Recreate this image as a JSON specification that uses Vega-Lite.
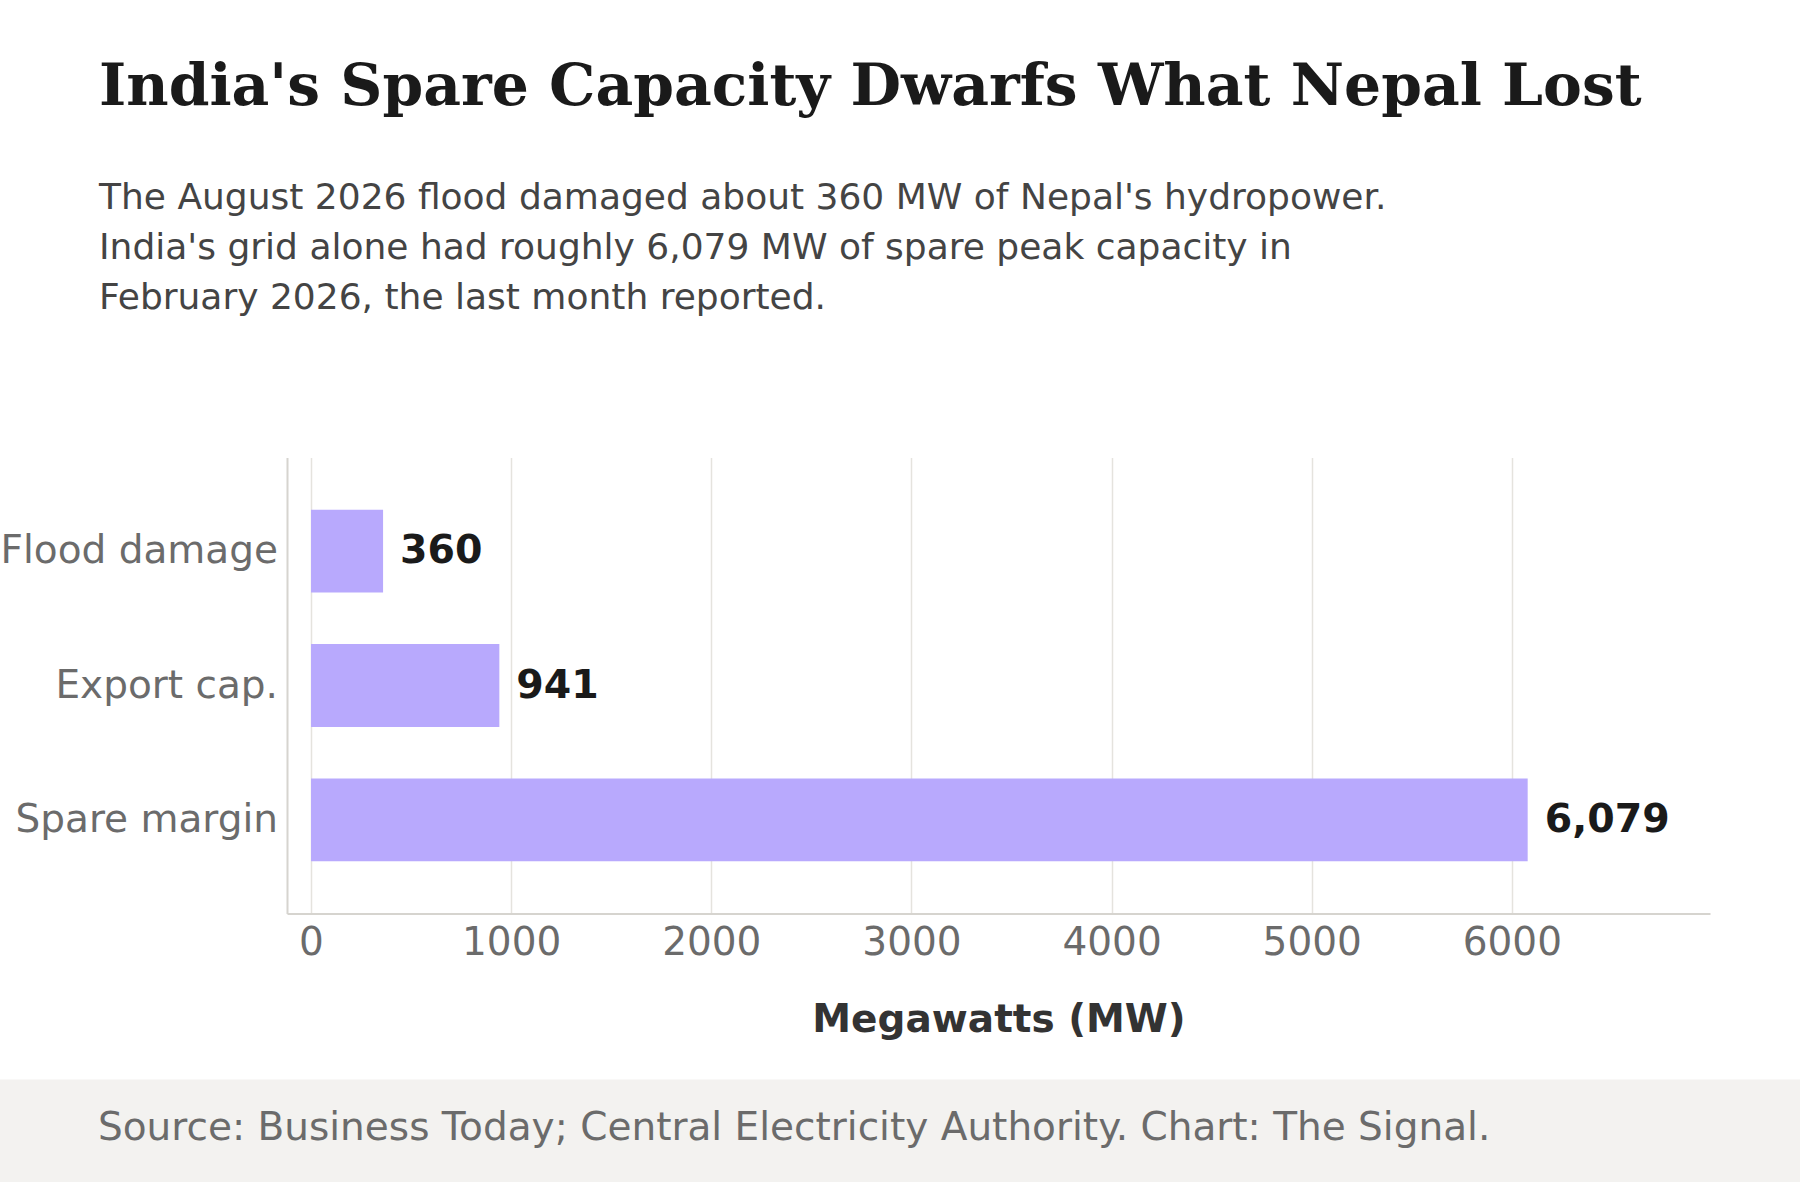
{
  "$schema": "https://vega.github.io/schema/vega-lite/v6.json",
  "padding": {"left": 0, "right": 0, "top": 57.5, "bottom": 0},
  "background": "white",
  "config": {"view": {"stroke": null}, "font": "DejaVu Sans"},
  "title": {
    "text": "India's Spare Capacity Dwarfs What Nepal Lost",
    "subtitle": [
      "The August 2026 flood damaged about 360 MW of Nepal's hydropower.",
      "India's grid alone had roughly 6,079 MW of spare peak capacity in",
      "February 2026, the last month reported."
    ],
    "anchor": "start",
    "frame": "group",
    "dx": 99,
    "font": "DejaVu Serif",
    "fontSize": 58.3,
    "fontWeight": "bold",
    "color": "#1a1a1a",
    "subtitleFont": "DejaVu Sans",
    "subtitleFontSize": 36,
    "subtitleColor": "#444444",
    "subtitleLineHeight": 50.4,
    "subtitlePadding": 63.7,
    "offset": 140.2
  },
  "spacing": 40,
  "vconcat": [
    {
      "width": 1710,
      "height": 456,
      "data": {
        "values": [
          {"category": "Flood damage", "mw": 360},
          {"category": "Export cap.", "mw": 941},
          {"category": "Spare margin", "mw": 6079}
        ]
      },
      "encoding": {
        "y": {
          "field": "category",
          "type": "nominal",
          "sort": null,
          "scale": {"paddingInner": 0.383, "paddingOuter": 0.388},
          "axis": {
            "title": null,
            "offset": -287,
            "ticks": false,
            "grid": false,
            "domainColor": "#d6d4cf",
            "domainWidth": 2,
            "labelFontSize": 39,
            "labelColor": "#6b6b6b",
            "labelPadding": 9.5,
            "labelLimit": 0
          }
        },
        "x": {
          "field": "mw",
          "type": "quantitative",
          "scale": {"domain": [-120, 6990], "range": [287, 1710], "nice": false, "zero": false},
          "axis": {
            "values": [0, 1000, 2000, 3000, 4000, 5000, 6000],
            "format": "d",
            "title": "Megawatts (MW)",
            "titleFontSize": 39,
            "titleFontWeight": "bold",
            "titleColor": "#333333",
            "titlePadding": 38,
            "labelFontSize": 39,
            "labelColor": "#6b6b6b",
            "labelPadding": 10,
            "ticks": false,
            "grid": true,
            "gridColor": "#e5e3de",
            "gridWidth": 1.5,
            "domainColor": "#d6d4cf",
            "domainWidth": 2
          }
        }
      },
      "layer": [
        {"mark": {"type": "bar", "color": "#b8a9fd"}},
        {
          "mark": {
            "type": "text",
            "align": "left",
            "baseline": "middle",
            "dx": 17,
            "fontSize": 39.5,
            "fontWeight": "bold",
            "color": "#1a1a1a"
          },
          "encoding": {"text": {"field": "mw", "type": "quantitative", "format": ","}}
        }
      ]
    },
    {
      "width": 1800,
      "height": 104,
      "data": {"values": [{"band": "footer"}]},
      "mark": {"type": "rect", "color": "#f3f2f0"},
      "title": {
        "text": "Source: Business Today; Central Electricity Authority. Chart: The Signal.",
        "orient": "top",
        "anchor": "start",
        "frame": "group",
        "offset": 0,
        "dx": 98,
        "dy": 99.5,
        "baseline": "alphabetic",
        "font": "DejaVu Sans",
        "fontSize": 39,
        "fontWeight": "normal",
        "color": "#6b6b6b"
      }
    }
  ]
}
